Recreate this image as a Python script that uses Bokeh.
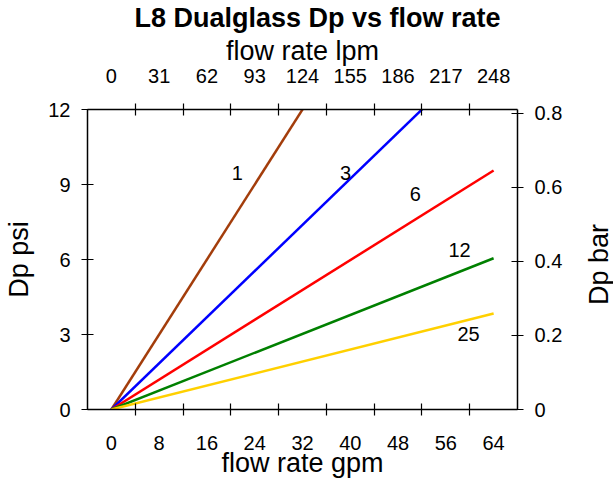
import math
from bokeh.plotting import figure
from bokeh.layouts import row
from bokeh.models import Range1d, LinearAxis, FixedTicker
from bokeh.core.properties import value
from bokeh.embed import file_html
from bokeh.resources import INLINE

# ---- data ----
flow_gpm = [0, 64]
dp_1 = [0, 24.0]
dp_3 = [0, 14.77]
dp_6 = [0, 9.56]
dp_12 = [0, 6.05]
dp_25 = [0, 3.84]

series_names = ["1", "3", "6", "12", "25"]
series_colors = ["#A33D0B", "#0000FF", "#FF0000", "#008000", "#FFD000"]
label_x = [21.1, 39.2, 50.9, 58.3, 59.8]
label_y = [9.48, 9.48, 8.63, 6.39, 3.03]

gpm_ticks = [0, 8, 16, 24, 32, 40, 48, 56, 64]
gpm_minor = [4, 12, 20, 28, 36, 44, 52, 60]
lpm_ticks = [0, 31, 62, 93, 124, 155, 186, 217, 248]
lpm_minor = [15.5, 46.5, 77.5, 108.5, 139.5, 170.5, 201.5, 232.5]
psi_ticks = [0, 3, 6, 9, 12]
bar_ticks = [0, 0.2, 0.4, 0.6, 0.8]

TITLE = "L8 Dualglass Dp vs flow rate"
RIGHT_LABEL = ["Dp bar"]

FONT = "Liberation Sans"

p = figure(width=578, height=483, x_range=Range1d(-4, 68), y_range=Range1d(0, 12),
           output_backend="svg", toolbar_location=None,
           x_axis_location=None, y_axis_location=None,
           min_border_left=87, min_border_right=61, min_border_top=109, min_border_bottom=74)
p.extra_x_ranges = {"lpm": Range1d(-15.5, 263.5)}
p.extra_y_ranges = {"bar": Range1d(0, 0.81)}
p.outline_line_color = None
p.grid.visible = False
p.background_fill_color = "white"
p.border_fill_color = "white"

p.title.text = TITLE
p.title.text_font = FONT
p.title.text_font_size = "27px"
p.title.text_font_style = "bold"
p.title.text_color = "black"
p.title.align = "left"
p.title.offset = 47
p.title.standoff = 0


def style(ax):
    ax.axis_label_text_font = FONT
    ax.axis_label_text_font_size = "27px"
    ax.axis_label_text_font_style = "normal"
    ax.axis_label_text_color = "black"
    ax.major_label_text_font = FONT
    ax.major_label_text_font_size = "20px"
    ax.major_label_text_color = "black"
    ax.axis_line_color = "black"
    ax.axis_line_width = 1.5
    ax.major_tick_line_color = "black"
    ax.minor_tick_line_color = "black"
    ax.major_tick_line_width = 1.2
    ax.minor_tick_line_width = 1.2


bottom = LinearAxis(axis_label="flow rate gpm",
                    ticker=FixedTicker(ticks=gpm_ticks, minor_ticks=gpm_minor))
style(bottom)
bottom.major_tick_in = 0
bottom.major_tick_out = 0
bottom.minor_tick_in = 6
bottom.minor_tick_out = 6
bottom.major_label_standoff = 20
bottom.axis_label_standoff = -5
p.add_layout(bottom, "below")

top = LinearAxis(axis_label="flow rate lpm", x_range_name="lpm",
                 ticker=FixedTicker(ticks=lpm_ticks, minor_ticks=lpm_minor))
style(top)
top.major_tick_in = 0
top.major_tick_out = 0
top.minor_tick_in = 6
top.minor_tick_out = 6
top.major_label_standoff = 21
top.axis_label_standoff = 0
p.add_layout(top, "above")

left = LinearAxis(axis_label="Dp psi", ticker=FixedTicker(ticks=psi_ticks))
style(left)
left.major_tick_in = 6
left.major_tick_out = 6
left.minor_tick_out = 0
left.minor_tick_in = 0
left.major_label_standoff = 11
left.axis_label_standoff = 11
p.add_layout(left, "left")

right = LinearAxis(y_range_name="bar", ticker=FixedTicker(ticks=bar_ticks))
style(right)
right.major_tick_in = 6
right.major_tick_out = 6
right.minor_tick_out = 0
right.minor_tick_in = 0
right.major_label_standoff = 11
right.major_label_overrides = {0: "0"}
p.add_layout(right, "right")

all_dp = [dp_1, dp_3, dp_6, dp_12, dp_25]
for dp, c in zip(all_dp, series_colors):
    p.line(flow_gpm, dp, line_color=c, line_width=2.5)

p.text(x=label_x, y=label_y, text=series_names, text_font=value(FONT),
       text_font_size="20px", text_align="center", text_baseline="middle", text_color="black")

# narrow strip on the right holding the right-axis title (reads bottom-to-top)
p2 = figure(width=35, height=483, x_range=Range1d(0, 35), y_range=Range1d(0, 12),
            output_backend="svg", toolbar_location=None,
            x_axis_location=None, y_axis_location=None,
            min_border_left=0, min_border_right=0, min_border_top=109, min_border_bottom=74)
p2.outline_line_color = None
p2.grid.visible = False
p2.background_fill_color = "white"
p2.border_fill_color = "white"
p2.text(x=[20], y=[5.8], text=RIGHT_LABEL, text_font=value(FONT), text_font_size="27px",
        text_align="center", text_baseline="middle", angle=math.pi / 2, text_color="black")

layout = row(p, p2)

open("out.html", "w").write(file_html(layout, INLINE))
